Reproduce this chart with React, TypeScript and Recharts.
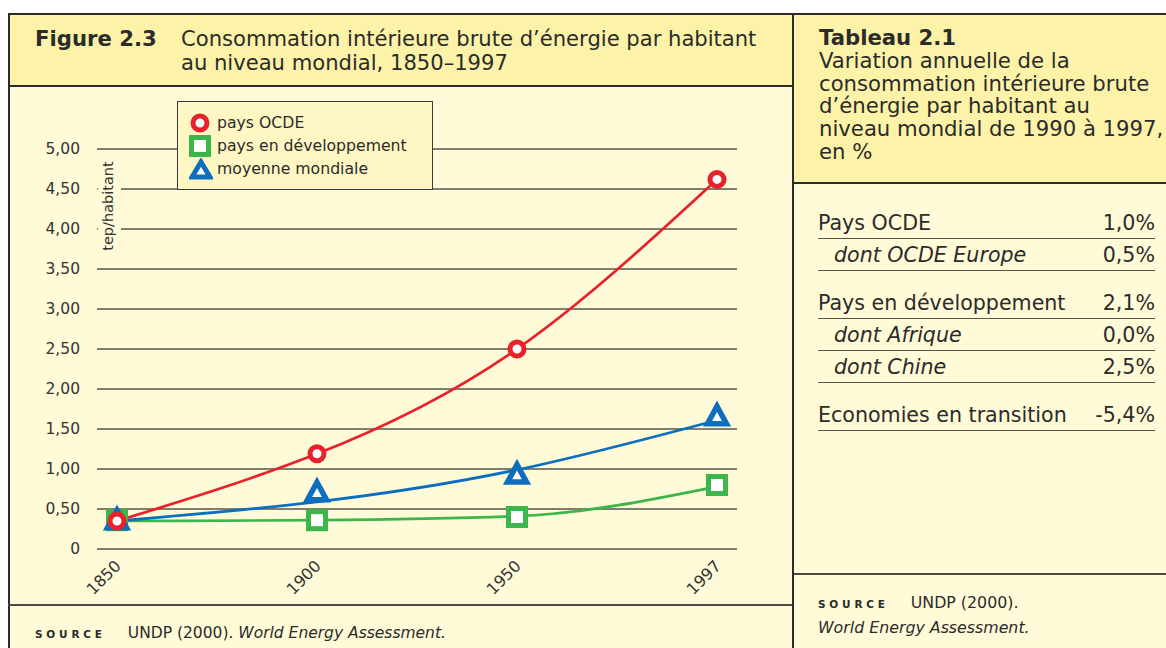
import React from 'react';
import { LineChart, Line, XAxis, YAxis, CartesianGrid } from 'recharts';

// ---- data ----
const years = ['1850', '1900', '1950', '1997'];
const ocdeValues = [0.35, 1.19, 2.5, 4.62];
const devMarkers = [0.36, 0.36, 0.4, 0.8];
const devTrend = [0.35, 0.36, 0.41, 0.78];
const worldMarkers = [0.36, 0.71, 0.93, 1.66];
const worldTrend = [0.35, 0.59, 0.99, 1.61];
const yTicks = [0, 0.5, 1, 1.5, 2, 2.5, 3, 3.5, 4, 4.5, 5];
const yTickLabels = ['0', '0,50', '1,00', '1,50', '2,00', '2,50', '3,00', '3,50', '4,00', '4,50', '5,00'];
const legendLabels = ['pays OCDE', 'pays en développement', 'moyenne mondiale'];
const tableLabels = ['Pays OCDE', 'dont OCDE Europe', 'Pays en développement', 'dont Afrique', 'dont Chine', 'Economies en transition'];
const tableValues = ['1,0%', '0,5%', '2,1%', '0,0%', '2,5%', '-5,4%'];
const tableSub = [false, true, false, true, true, false];

const data = years.map((y, i) => ({
  year: y,
  ocde: ocdeValues[i],
  devM: devMarkers[i],
  devT: devTrend[i],
  worldM: worldMarkers[i],
  worldT: worldTrend[i],
}));

const RED = '#e8212b';
const GREEN = '#3cb54a';
const BLUE = '#0b6fbd';
const HEAD = '#fdf3a8';
const BODY = '#fffad7';
const LEG = '#fff7c3';
const INK = '#2b2b2b';
const FONT = '"DejaVu Sans", Verdana, sans-serif';

const CircleDot = (p: any) => {
  if (p.cx == null || p.cy == null) return <g key={p.index} />;
  return <circle key={`c-${p.index}`} cx={p.cx} cy={p.cy} r={7} fill="#fff" stroke={RED} strokeWidth={5} />;
};
const SquareDot = (p: any) => {
  if (p.cx == null || p.cy == null) return <g key={p.index} />;
  return <rect key={`s-${p.index}`} x={p.cx - 8.5} y={p.cy - 8.5} width={17} height={17} fill="#fff" stroke={GREEN} strokeWidth={5} />;
};
const TriDot = (p: any) => {
  if (p.cx == null || p.cy == null) return <g key={p.index} />;
  const { cx, cy } = p;
  return (
    <polygon
      key={`t-${p.index}`}
      points={`${cx},${cy - 10} ${cx + 9.5},${cy + 7.5} ${cx - 9.5},${cy + 7.5}`}
      fill="#fff"
      stroke={BLUE}
      strokeWidth={5.5}
      strokeLinejoin="miter"
    />
  );
};

const XTick = (p: any) => {
  const { x, y, payload } = p;
  return (
    <g transform={`translate(${x + 5},${y + 10})`}>
      <text x={0} y={0} textAnchor="end" transform="rotate(-45)" fontSize={16} fill="#333" fontFamily={FONT}>
        {payload.value}
      </text>
    </g>
  );
};

const YTick = (p: any) => {
  const { x, y, payload } = p;
  const idx = yTicks.indexOf(payload.value);
  return (
    <text x={x} y={y} dy={5} textAnchor="end" fontSize={15.5} fill="#333" fontFamily={FONT}>
      {yTickLabels[idx]}
    </text>
  );
};

const YLabel = (p: any) => {
  const vb = p.viewBox || { x: 0, y: 0, width: 0, height: 0 };
  const lx = vb.x + vb.width;
  const cy = vb.y + 57;
  return (
    <g>
      <rect x={lx + 1} y={vb.y + 3} width={23} height={114} fill={BODY} />
      <text
        x={lx + 16}
        y={cy}
        textAnchor="middle"
        transform={`rotate(-90, ${lx + 16}, ${cy})`}
        fontSize={14.5}
        fill="#333"
        fontFamily={FONT}
      >
        tep/habitant
      </text>
    </g>
  );
};

const LegendMarker = ({ i }: { i: number }) => {
  if (i === 0)
    return (
      <svg width={22} height={22}>
        <circle cx={11} cy={11} r={7} fill="#fff" stroke={RED} strokeWidth={5} />
      </svg>
    );
  if (i === 1)
    return (
      <svg width={22} height={22}>
        <rect x={2.5} y={2.5} width={17} height={17} fill="#fff" stroke={GREEN} strokeWidth={5} />
      </svg>
    );
  return (
    <svg width={24} height={22}>
      <polygon points="12,4 21,19 3,19" fill="#fff" stroke={BLUE} strokeWidth={5} />
    </svg>
  );
};

const abs = (s: React.CSSProperties): React.CSSProperties => ({ position: 'absolute', ...s });

export default function App() {
  const tableTops = [209, 241, 289, 321, 353, 401];
  return (
    <div
      style={{
        position: 'absolute',
        left: 0,
        top: 0,
        width: 1166,
        height: 648,
        overflow: 'hidden',
        background: '#fff',
        fontFamily: FONT,
        color: INK,
      }}
    >
      {/* left panel */}
      <div style={abs({ left: 8, top: 13, width: 786, height: 74, background: HEAD, borderTop: `2px solid ${INK}`, borderLeft: `2px solid ${INK}`, borderBottom: `2px solid ${INK}`, boxSizing: 'border-box' })} />
      <div style={abs({ left: 8, top: 87, width: 786, height: 600, background: BODY, borderLeft: `2px solid ${INK}`, boxSizing: 'border-box' })} />
      <div style={abs({ left: 8, top: 604, width: 786, height: 2, background: '#4a4a44' })} />
      {/* right panel */}
      <div style={abs({ left: 794, top: 13, width: 380, height: 171, background: HEAD, borderTop: `2px solid ${INK}`, borderBottom: `2px solid ${INK}`, boxSizing: 'border-box' })} />
      <div style={abs({ left: 794, top: 184, width: 380, height: 500, background: BODY })} />
      <div style={abs({ left: 794, top: 573, width: 380, height: 2, background: '#4a4a44' })} />
      <div style={abs({ left: 792, top: 13, width: 2, height: 640, background: INK })} />

      {/* left title */}
      <div style={abs({ left: 35, top: 27, fontSize: 21.2, lineHeight: '24px', fontWeight: 'bold', whiteSpace: 'nowrap' })}>Figure 2.3</div>
      <div style={abs({ left: 181, top: 27, fontSize: 21.1, lineHeight: '24px', whiteSpace: 'nowrap' })}>
        Consommation intérieure brute d’énergie par habitant
        <br />
        au niveau mondial, 1850–1997
      </div>

      {/* chart */}
      <div style={abs({ left: 0, top: 0 })}>
        <LineChart width={790} height={640} data={data} margin={{ top: 149, right: 53, bottom: 51, left: 37 }}>
          <CartesianGrid vertical={false} horizontal stroke="#57544a" strokeWidth={1.5} />
          <XAxis
            dataKey="year"
            height={40}
            axisLine={false}
            tickLine={false}
            tickSize={0}
            tickMargin={8}
            padding={{ left: 20, right: 20 }}
            tick={<XTick />}
            interval={0}
          />
          <YAxis
            width={60}
            domain={[0, 5]}
            ticks={yTicks}
            axisLine={false}
            tickLine={false}
            tickSize={0}
            tickMargin={17}
            tick={<YTick />}
            label={<YLabel />}
          />
          <Line dataKey="devT" type="monotone" stroke={GREEN} strokeWidth={2.7} dot={false} activeDot={false} isAnimationActive={false} />
          <Line dataKey="worldT" type="natural" stroke={BLUE} strokeWidth={2.7} dot={false} activeDot={false} isAnimationActive={false} />
          <Line dataKey="ocde" type="natural" stroke={RED} strokeWidth={2.7} dot={false} activeDot={false} isAnimationActive={false} />
          <Line dataKey="devM" stroke="none" dot={SquareDot} activeDot={false} isAnimationActive={false} />
          <Line dataKey="worldM" stroke="none" dot={TriDot} activeDot={false} isAnimationActive={false} />
          <Line dataKey="ocde" stroke="none" dot={CircleDot} activeDot={false} isAnimationActive={false} />
        </LineChart>
      </div>

      {/* legend */}
      <div style={abs({ left: 177, top: 101, width: 256, height: 89, background: LEG, border: `1.5px solid #3a3a36`, boxSizing: 'border-box', padding: '9px 0 0 11px' })}>
        {legendLabels.map((l, i) => (
          <div key={l} style={{ display: 'flex', alignItems: 'center', height: 23, fontSize: 15.7, whiteSpace: 'nowrap' }}>
            <LegendMarker i={i} />
            <span style={{ marginLeft: i === 2 ? 4 : 6 }}>{l}</span>
          </div>
        ))}
      </div>

      {/* left source */}
      <div style={abs({ left: 35, top: 623, fontSize: 15.5, lineHeight: '20px', whiteSpace: 'nowrap' })}>
        <span style={{ fontSize: 10.5, fontWeight: 'bold', letterSpacing: 3.8 }}>SOURCE</span>
        <span style={{ marginLeft: 22 }}>UNDP (2000). </span>
        <i>World Energy Assessment.</i>
      </div>

      {/* right header */}
      <div style={abs({ left: 819, top: 27, fontSize: 21.2, lineHeight: '22.8px', whiteSpace: 'nowrap' })}>
        <b>Tableau 2.1</b>
        <br />
        Variation annuelle de la
        <br />
        consommation intérieure brute
        <br />
        d’énergie par habitant au
        <br />
        niveau mondial de 1990 à 1997,
        <br />
        en %
      </div>

      {/* table */}
      {tableLabels.map((l, i) => (
        <div
          key={l}
          style={abs({
            left: 818,
            top: tableTops[i],
            width: 337,
            height: 29,
            lineHeight: '29px',
            fontSize: 20.6,
            borderBottom: '1.5px solid #55524a',
            display: 'flex',
            justifyContent: 'space-between',
            whiteSpace: 'nowrap',
          })}
        >
          <span style={{ paddingLeft: tableSub[i] ? 16 : 0, fontStyle: tableSub[i] ? 'italic' : 'normal' }}>{l}</span>
          <span>{tableValues[i]}</span>
        </div>
      ))}

      {/* right source */}
      <div style={abs({ left: 818, top: 591, fontSize: 15.8, lineHeight: '23px', whiteSpace: 'nowrap' })}>
        <span style={{ fontSize: 10.5, fontWeight: 'bold', letterSpacing: 3.8 }}>SOURCE</span>
        <span style={{ marginLeft: 22 }}>UNDP (2000).</span>
        <br />
        <i>World Energy Assessment.</i>
      </div>
    </div>
  );
}
